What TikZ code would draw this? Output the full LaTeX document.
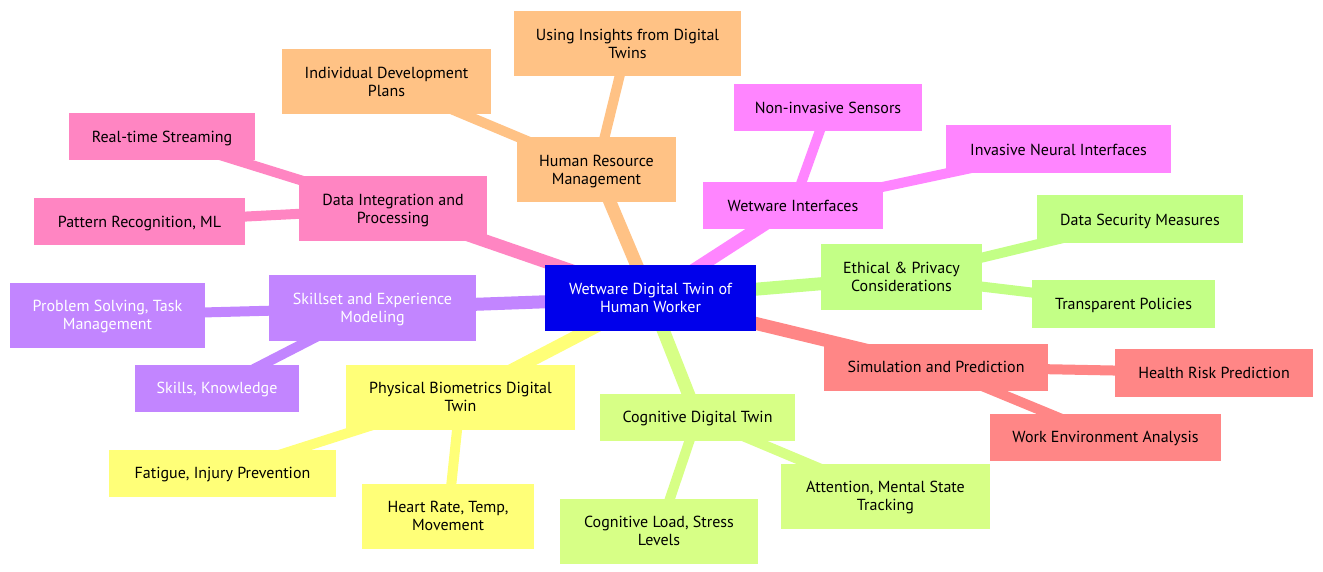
\documentclass[tikz,border=0pt]{standalone}
\usepackage{fontspec}
\setmainfont{PT Sans}
\usetikzlibrary{backgrounds}
\definecolor{cRoot}{HTML}{0000EB}
\definecolor{cOrange}{HTML}{FFC285}
\definecolor{cPink}{HTML}{FF85C2}
\definecolor{cMagenta}{HTML}{FF85FF}
\definecolor{cPurple}{HTML}{C285FF}
\definecolor{cYellow}{HTML}{FFFF78}
\definecolor{cLime}{HTML}{D7FF86}
\definecolor{cGreen}{HTML}{C3FF86}
\definecolor{cRed}{HTML}{FF8686}
\tikzset{
  mm/.style={rectangle, inner sep=0pt, align=center, font=\fontsize{16}{18}\selectfont, text=black, yshift=-1.5pt, text depth=0pt},
  e1/.style={line width=13pt, line cap=butt},
  e2/.style={line width=10pt, line cap=butt},
}
\begin{document}
\begin{tikzpicture}[x=1pt,y=-1pt]
\useasboundingbox (0,0) rectangle (1323,572);
\path
 (650.5,296.5) node[mm, fill=cRoot, text=white, minimum width=211pt, minimum height=65pt] (root) {Wetware Digital Twin of\\Human Worker}
 (596.5,168.5) node[mm, fill=cOrange, minimum width=159pt, minimum height=65pt] (hr) {Human Resource\\Management}
 (386.5,80.5) node[mm, fill=cOrange, minimum width=209pt, minimum height=65pt] (idp) {Individual Development\\Plans}
 (627.5,42.5) node[mm, fill=cOrange, minimum width=227pt, minimum height=65pt] (uid) {Using Insights from Digital\\Twins}
 (393,207.5) node[mm, fill=cPink, minimum width=188pt, minimum height=65pt] (data) {Data Integration and\\Processing}
 (162,135.5) node[mm, fill=cPink, minimum width=186pt, minimum height=47pt] (rts) {Real-time Streaming}
 (139.5,220.5) node[mm, fill=cPink, minimum width=211pt, minimum height=47pt] (prml) {Pattern Recognition, ML}
 (372.5,306.5) node[mm, fill=cPurple, text=white, minimum width=207pt, minimum height=65pt] (skill) {Skillset and Experience\\Modeling}
 (107.5,313.5) node[mm, fill=cPurple, text=white, minimum width=195pt, minimum height=65pt] (pstm) {Problem Solving, Task\\Management}
 (217,386.5) node[mm, fill=cPurple, text=white, minimum width=164pt, minimum height=47pt] (sk) {Skills, Knowledge}
 (460.5,395.5) node[mm, fill=cYellow, minimum width=229pt, minimum height=65pt] (phys) {Physical Biometrics Digital\\Twin}
 (222.5,471.5) node[mm, fill=cYellow, minimum width=227pt, minimum height=47pt] (fip) {Fatigue, Injury Prevention}
 (448,514.5) node[mm, fill=cYellow, minimum width=172pt, minimum height=65pt] (hrtm) {Heart Rate, Temp,\\Movement}
 (697.5,415.5) node[mm, fill=cLime, minimum width=195pt, minimum height=47pt] (cog) {Cognitive Digital Twin}
 (659,529.5) node[mm, fill=cLime, minimum width=198pt, minimum height=65pt] (cls) {Cognitive Load, Stress\\Levels}
 (885.5,494.5) node[mm, fill=cLime, minimum width=209pt, minimum height=65pt] (amst) {Attention, Mental State\\Tracking}
 (793,204.5) node[mm, fill=cMagenta, minimum width=180pt, minimum height=47pt] (wet) {Wetware Interfaces}
 (828,106.5) node[mm, fill=cMagenta, minimum width=188pt, minimum height=47pt] (nis) {Non-invasive Sensors}
 (1058.5,148) node[mm, fill=cMagenta, minimum width=225pt, minimum height=48pt] (ini) {Invasive Neural Interfaces}
 (901.5,275.5) node[mm, fill=cGreen, minimum width=161pt, minimum height=65pt] (eth) {Ethical \& Privacy\\Considerations}
 (1140,218) node[mm, fill=cGreen, minimum width=206pt, minimum height=48pt] (dsm) {Data Security Measures}
 (1123.5,302) node[mm, fill=cGreen, minimum width=183pt, minimum height=48pt] (tp) {Transparent Policies}
 (936,365.5) node[mm, fill=cRed, minimum width=224pt, minimum height=47pt] (sim) {Simulation and Prediction}
 (1214,371) node[mm, fill=cRed, minimum width=198pt, minimum height=48pt] (hrp) {Health Risk Prediction}
 (1105.5,435.5) node[mm, fill=cRed, minimum width=231pt, minimum height=47pt] (wea) {Work Environment Analysis};
\begin{scope}[on background layer]
 \draw[e1, cOrange] (root.center) -- (hr.center);
 \draw[e2, cOrange] (hr.center) -- (idp.center);
 \draw[e2, cOrange] (hr.center) -- (uid.center);
 \draw[e1, cPink] (root.center) -- (data.center);
 \draw[e2, cPink] (data.center) -- (rts.center);
 \draw[e2, cPink] (data.center) -- (prml.center);
 \draw[e1, cPurple] (root.center) -- (skill.center);
 \draw[e2, cPurple] (skill.center) -- (pstm.center);
 \draw[e2, cPurple] (skill.center) -- (sk.center);
 \draw[e1, cYellow] (root.center) -- (phys.center);
 \draw[e2, cYellow] (phys.center) -- (fip.center);
 \draw[e2, cYellow] (phys.center) -- (hrtm.center);
 \draw[e1, cLime] (root.center) -- (cog.center);
 \draw[e2, cLime] (cog.center) -- (cls.center);
 \draw[e2, cLime] (cog.center) -- (amst.center);
 \draw[e1, cMagenta] (root.center) -- (wet.center);
 \draw[e2, cMagenta] (wet.center) -- (nis.center);
 \draw[e2, cMagenta] (wet.center) -- (ini.center);
 \draw[e1, cGreen] (root.center) -- (eth.center);
 \draw[e2, cGreen] (eth.center) -- (dsm.center);
 \draw[e2, cGreen] (eth.center) -- (tp.center);
 \draw[e1, cRed] (root.center) -- (sim.center);
 \draw[e2, cRed] (sim.center) -- (hrp.center);
 \draw[e2, cRed] (sim.center) -- (wea.center);
\end{scope}
\end{tikzpicture}
\end{document}
